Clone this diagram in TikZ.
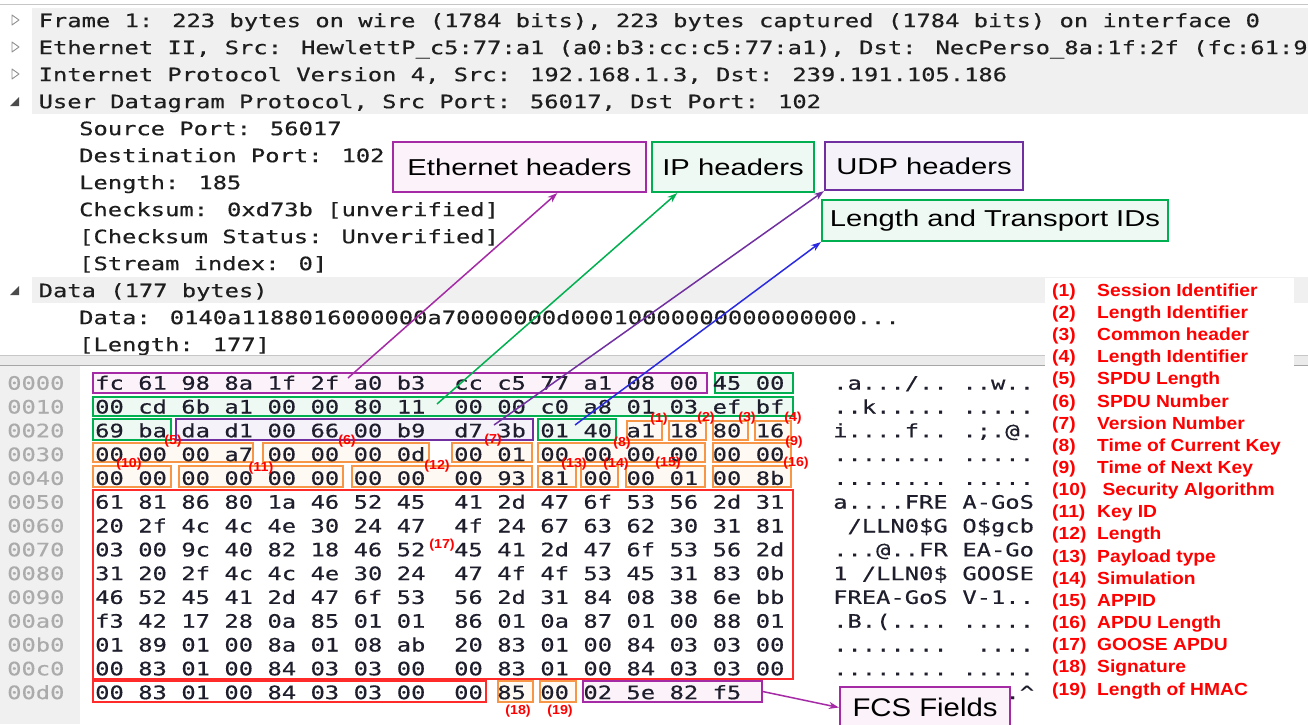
\documentclass[tikz,border=0pt]{standalone}
\usepackage{fontspec}
\usetikzlibrary{arrows.meta,calc,fit}

\newfontfamily\wsmono[FakeStretch=1.285,FakeBold=0.4]{DejaVu Sans Mono}
\newfontfamily\calloutfont[FakeStretch=1.27]{Liberation Sans}
\newfontfamily\fcsfont[FakeStretch=1.15]{Liberation Sans}
\newfontfamily\legendfont[FakeStretch=1.1]{Liberation Sans}

\definecolor{ethpurple}{HTML}{A52AA5}
\definecolor{ethfill}{HTML}{FBF2FA}
\definecolor{udppurple}{HTML}{7030A0}
\definecolor{udpfill}{HTML}{F5F2FA}
\definecolor{ipgreen}{HTML}{00B050}
\definecolor{ipfill}{HTML}{EFF9F3}
\definecolor{fieldorange}{HTML}{F79646}
\definecolor{orangefill}{HTML}{FFF9F3}
\definecolor{apdured}{HTML}{FF2A2A}
\definecolor{labelred}{HTML}{FF0000}
\definecolor{lenblue}{HTML}{2A2AE0}
\definecolor{rowgray}{HTML}{F0F0F0}
\definecolor{treeink}{HTML}{1E1E1E}
\definecolor{hexink}{HTML}{1E1E2C}
\definecolor{offsetgray}{HTML}{ABABAB}
\definecolor{arrowgray}{HTML}{909090}

\tikzset{
  monotext/.style={anchor=base west, inner sep=0, font=\wsmono\fontsize{18.5}{20}\selectfont},
  treetext/.style={monotext, text=treeink},
  hexbyte/.style={monotext, text=hexink},
  offsettext/.style={monotext, text=offsetgray},
  asciitext/.style={monotext, text=hexink},
  fieldframe/.style={draw, line width=1.4pt, inner sep=0},
  callout/.style={draw, line width=2.2pt, inner sep=0, text=black,
    font=\calloutfont\fontsize{23}{26}\selectfont},
  fieldlabel/.style={inner sep=0, text=labelred,
    font=\legendfont\bfseries\fontsize{13}{14}\selectfont},
  legendtext/.style={anchor=base west, inner sep=0, text=labelred,
    font=\legendfont\bfseries\fontsize{17.5}{19}\selectfont},
  pointer/.style={line width=1.5pt, -{Stealth[length=10pt,width=7pt]}},
}

% one line of the hex dump: #1 row index, #2 offset, #3 bytes
\newcommand\hexline[3]{%
  \node[offsettext] (off#1) at (7, {383+23.8*#1+6.7}) {#2};
  \foreach \b [count=\i from 0] in {#3} {%
    \pgfmathsetmacro\hx{95+(3*\i+(\i>7?1:0))*14.36}%
    \node[hexbyte] (hx#1-\i) at (\hx, {383+23.8*#1+6.7}) {\b};
  }}
% ascii column of the hex dump: #1 row index, #2 and #3 the two halves
\newcommand\asciiline[3]{%
  \node[asciitext] (asa#1) at (833, {383+23.8*#1+6.7}) {#2};
  \node[asciitext] (asb#1) at (962.2, {383+23.8*#1+6.7}) {#3};
}

\begin{document}
\begin{tikzpicture}[x=1pt,y=-1pt]
\useasboundingbox (0,0) rectangle (1308,724);
\clip (0,0) rectangle (1308,724);
\fill[white] (0,0) rectangle (1308,724);

% ---------- packet details tree ----------
\draw[gray!45, line width=1pt] (0,4.5) -- (1308,4.5);
\fill[rowgray] (32,8) rectangle (1308,114);
\fill[rowgray] (32,277) rectangle (1308,303);

\foreach \r in {0,1,2} {
  \draw[arrowgray, line width=0.9pt, line join=round]
    (12,{20+27*\r-5}) -- (12,{20+27*\r+5}) -- (19,{20+27*\r}) -- cycle;
}
\foreach \r in {3,10} {
  \fill[black!70] (10,{20+27*\r+5}) -- (19,{20+27*\r+5}) -- (19,{20+27*\r-4}) -- cycle;
}

\node[treetext] (tr0) at (38.5,27.2) {Frame 1: 223 bytes on wire (1784 bits), 223 bytes captured (1784 bits) on interface 0};
\node[treetext] (tr1) at (38.5,54.2) {Ethernet II, Src: HewlettP\_c5:77:a1 (a0:b3:cc:c5:77:a1), Dst: NecPerso\_8a:1f:2f (fc:61:9};
\node[treetext] (tr2) at (38.5,81.2) {Internet Protocol Version 4, Src: 192.168.1.3, Dst: 239.191.105.186};
\node[treetext] (tr3) at (38.5,108.2) {User Datagram Protocol, Src Port: 56017, Dst Port: 102};
\node[treetext] (tr4) at (79,135.2) {Source Port: 56017};
\node[treetext] (tr5) at (79,162.2) {Destination Port: 102};
\node[treetext] (tr6) at (79,189.2) {Length: 185};
\node[treetext] (tr7) at (79,216.2) {Checksum: 0xd73b [unverified]};
\node[treetext] (tr8) at (79,243.2) {[Checksum Status: Unverified]};
\node[treetext] (tr9) at (79,270.2) {[Stream index: 0]};
\node[treetext] (tr10) at (38.5,297.2) {Data (177 bytes)};
\node[treetext] (tr11) at (79,324.2) {Data: 0140a1188016000000a70000000d00010000000000000000...};
\node[treetext] (tr12) at (79,351.2) {[Length: 177]};

% ---------- pane splitter and offset column ----------
\fill[black!8] (0,355) rectangle (1308,366);
\draw[black!22, line width=0.8pt] (0,355) -- (1308,355);
\draw[black!35, line width=0.8pt] (0,365.5) -- (1308,365.5);
\fill[rowgray] (0,366) rectangle (80,724);

% ---------- field frames in the hex dump ----------
\node[fieldframe, draw=ethpurple, fill=ethfill, fit={(93,373) (707,393)}] (ethbytes) {};
\node[fieldframe, draw=ipgreen, fill=ipfill, fit={(715,373) (793,393)}] (ipbytesa) {};
\node[fieldframe, draw=ipgreen, fill=ipfill, fit={(93,397) (793,416)}] (ipbytesb) {};
\node[fieldframe, draw=ipgreen, fill=ipfill, fit={(93,419) (171,440)}] (ipbytesc) {};
\node[fieldframe, draw=udppurple, fill=udpfill, fit={(176,419) (533,440)}] (udpbytes) {};
\node[fieldframe, draw=ipgreen, fill=ipfill, fit={(538,419) (616,440)}] (lenbytes) {};

\foreach \a/\b/\t/\u [count=\n] in {
    627/662/421/440, 669/706/421/440, 713/748/421/440, 755/791/421/440,
    93/253/443/462, 263/429/443/462, 452/532/443/462, 538/705/443/462, 713/791/443/462,
    93/171/466/487, 179/343/466/487, 352/532/466/487, 538/576/466/487,
    581/618/466/487, 626/705/466/487, 713/791/466/487,
    498/533/681/702, 540/576/681/702} {
  \node[fieldframe, draw=fieldorange, fill=orangefill, fit={(\a,\t) (\b,\u)}] (fld\n) {};
}
\node[fieldframe, draw=apdured, fill=white, fit={(93,490) (793,679)}] (apdu) {};
\node[fieldframe, draw=apdured, fill=white, fit={(93,681) (486,702)}] (apdutail) {};
\node[fieldframe, draw=ethpurple, fill=ethfill, fit={(583,681) (762,702)}] (fcsbytes) {};

% ---------- hex dump ----------
\hexline{0}{0000}{fc,61,98,8a,1f,2f,a0,b3,cc,c5,77,a1,08,00,45,00}
\hexline{1}{0010}{00,cd,6b,a1,00,00,80,11,00,00,c0,a8,01,03,ef,bf}
\hexline{2}{0020}{69,ba,da,d1,00,66,00,b9,d7,3b,01,40,a1,18,80,16}
\hexline{3}{0030}{00,00,00,a7,00,00,00,0d,00,01,00,00,00,00,00,00}
\hexline{4}{0040}{00,00,00,00,00,00,00,00,00,93,81,00,00,01,00,8b}
\hexline{5}{0050}{61,81,86,80,1a,46,52,45,41,2d,47,6f,53,56,2d,31}
\hexline{6}{0060}{20,2f,4c,4c,4e,30,24,47,4f,24,67,63,62,30,31,81}
\hexline{7}{0070}{03,00,9c,40,82,18,46,52,45,41,2d,47,6f,53,56,2d}
\hexline{8}{0080}{31,20,2f,4c,4c,4e,30,24,47,4f,4f,53,45,31,83,0b}
\hexline{9}{0090}{46,52,45,41,2d,47,6f,53,56,2d,31,84,08,38,6e,bb}
\hexline{10}{00a0}{f3,42,17,28,0a,85,01,01,86,01,0a,87,01,00,88,01}
\hexline{11}{00b0}{01,89,01,00,8a,01,08,ab,20,83,01,00,84,03,03,00}
\hexline{12}{00c0}{00,83,01,00,84,03,03,00,00,83,01,00,84,03,03,00}
\hexline{13}{00d0}{00,83,01,00,84,03,03,00,00,85,00,02,5e,82,f5}

% the legend hides the rest of each ascii line
\asciiline{0}{.a.../..}{..w..}
\asciiline{1}{..k.....}{.....}
\asciiline{2}{i....f..}{.;.@.}
\asciiline{3}{........}{.....}
\asciiline{4}{........}{.....}
\asciiline{5}{a....FRE}{A-GoS}
\asciiline{6}{\ /LLN0\$G}{O\$gcb}
\asciiline{7}{...@..FR}{EA-Go}
\asciiline{8}{1 /LLN0\$}{GOOSE}
\asciiline{9}{FREA-GoS}{V-1..}
\asciiline{10}{.B.(....}{.....}
\asciiline{11}{........}{\ ....}
\asciiline{12}{........}{.....}
% last line: only the part right of the FCS callout shows
\node[asciitext] (asb13) at ({962.2+3*14.36}, {383+23.8*13+6.7}) {.\textasciicircum};

% ---------- field numbers ----------
\foreach \n/\x/\y in {1/659/419, 2/706/418, 3/747/418, 4/793/418, 5/173/441,
    6/347/441, 7/493/440, 8/622/443, 9/794/442, 10/129/464, 11/261/468,
    12/437/466, 13/574/464, 14/616/464, 15/668/463, 16/796/463,
    17/442/545, 18/518/711, 19/560/711} {
  \node[fieldlabel] (num\n) at (\x,\y) {(\n)};
}

% ---------- callouts ----------
\node[callout, draw=ethpurple, fill=ethfill, minimum width=253pt, minimum height=50pt]
  (ethcall) at (519.5,167) {Ethernet headers};
\node[callout, draw=ipgreen, fill=ipfill, minimum width=162pt, minimum height=50pt]
  (ipcall) at (733,167) {IP headers};
\node[callout, draw=udppurple, fill=udpfill, minimum width=198pt, minimum height=48pt]
  (udpcall) at (924,166) {UDP headers};
\node[callout, draw=ipgreen, fill=ipfill, minimum width=346pt, minimum height=41pt]
  (lencall) at (995,220.5) {Length and Transport IDs};
\node[callout, draw=ethpurple, fill=ethfill, minimum width=170pt, minimum height=41pt,
  font=\fcsfont\fontsize{25.5}{28}\selectfont]
  (fcscall) at (925,707.5) {FCS Fields};

\coordinate (ethsrc) at (348,378);
\coordinate (ipsrc) at (437,404);
\coordinate (udpsrc) at (494,425);
\coordinate (lensrc) at (575,425);
\draw[pointer, ethpurple] (ethsrc) -- ($(ethcall.south west)!0.648!(ethcall.south east)$);
\draw[pointer, ipgreen] (ipsrc) -- ($(ipcall.south west)!0.16!(ipcall.south east)$);
\draw[pointer, udppurple] (udpsrc) -- (udpcall.south west);
\draw[pointer, lenblue] (lensrc) -- (lencall.south west);
\draw[pointer, ethpurple] (fcsbytes.east) -- (fcscall.west);

% ---------- legend ----------
\node[fill=white, inner sep=0, fit={(1045,278) (1294,703)}] (legendbg) {};
\foreach \k/\t in {1/Session Identifier, 2/Length Identifier, 3/Common header,
    4/Length Identifier, 5/SPDU Length, 6/SPDU Number, 7/Version Number,
    8/Time of Current Key, 9/Time of Next Key, 10/\ Security Algorithm, 11/Key ID,
    12/Length, 13/Payload type, 14/Simulation, 15/APPID, 16/APDU Length,
    17/GOOSE APDU, 18/Signature, 19/Length of HMAC} {
  \node[legendtext] (legn\k) at (1052, {290+(\k-1)*22.15+6.3}) {(\k)};
  \node[legendtext] (legt\k) at (1097, {290+(\k-1)*22.15+6.3}) {\t};
}
\end{tikzpicture}
\end{document}
